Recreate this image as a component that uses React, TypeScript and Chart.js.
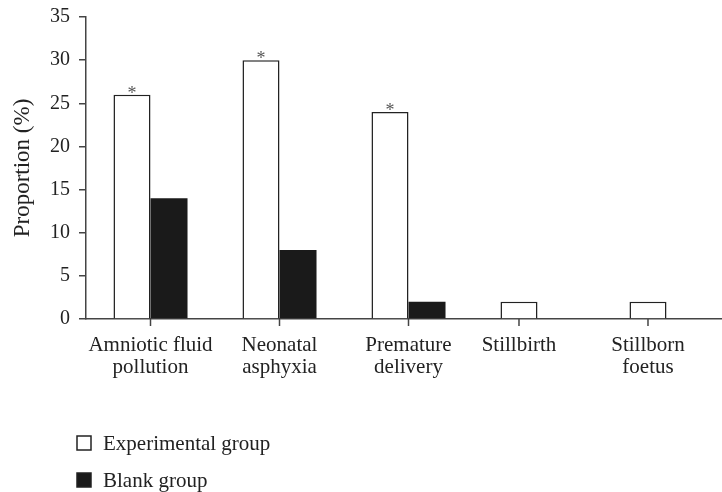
import React, { useEffect, useRef } from "react";
import { Chart, registerables } from "chart.js";

Chart.register(...registerables);

const categories: string[][] = [
  ["Amniotic fluid", "pollution"],
  ["Neonatal", "asphyxia"],
  ["Premature", "delivery"],
  ["Stillbirth"],
  ["Stillborn", "foetus"],
];
const experimental = [26, 30, 24, 2, 2];
const blank = [14, 8, 2, 0, 0];
const significant = [true, true, true, false, false];
const seriesNames = ["Experimental group", "Blank group"];
const yMax = 35;
const yStep = 5;

const FONT = "'Liberation Serif', 'Times New Roman', serif";
const TEXT = "#222";

const customPlugin = {
  id: "custom",
  afterDraw(chart: any) {
    const ctx = chart.ctx;
    const x = chart.scales.x;
    const area = chart.chartArea;
    const m0 = chart.getDatasetMeta(0);
    ctx.save();
    // ticks + labels
    ctx.strokeStyle = "#444";
    ctx.lineWidth = 1.5;
    ctx.fillStyle = TEXT;
    ctx.font = `21px ${FONT}`;
    ctx.textAlign = "center";
    ctx.textBaseline = "middle";
    categories.forEach((lines, i) => {
      const cx = blank[i] > 0 ? x.getPixelForValue(i) : m0.data[i].x;
      ctx.beginPath();
      ctx.moveTo(cx, area.bottom);
      ctx.lineTo(cx, area.bottom + 7);
      ctx.stroke();
      lines.forEach((t, j) => {
        ctx.fillText(t, cx, area.bottom + 26 + j * 22);
      });
    });
    // asterisks
    ctx.fillStyle = "#555";
    ctx.font = `18px ${FONT}`;
    ctx.textBaseline = "alphabetic";
    significant.forEach((s, i) => {
      if (!s) return;
      const el = m0.data[i];
      ctx.fillText("*", el.x, el.y + 4);
    });
    // legend
    ctx.font = `21px ${FONT}`;
    ctx.textAlign = "left";
    ctx.textBaseline = "alphabetic";
    const rows = [450, 487];
    seriesNames.forEach((name, i) => {
      const by = rows[i] - 14;
      ctx.lineWidth = 1.5;
      ctx.strokeStyle = "#222";
      ctx.fillStyle = i === 0 ? "#fff" : "#1a1a1a";
      ctx.fillRect(77, by, 14, 14);
      ctx.strokeRect(77, by, 14, 14);
      ctx.fillStyle = TEXT;
      ctx.fillText(name, 103, rows[i]);
    });
    ctx.restore();
  },
};

export default function App() {
  const ref = useRef<HTMLCanvasElement>(null);
  useEffect(() => {
    document.body.style.margin = "0";
    const chart = new Chart(ref.current!, {
      type: "bar",
      data: {
        labels: categories.map((c) => c.join(" ")),
        datasets: [
          {
            label: seriesNames[0],
            data: experimental,
            backgroundColor: "#ffffff",
            borderColor: "#222",
            borderWidth: 1.5,
          },
          {
            label: seriesNames[1],
            data: blank,
            backgroundColor: "#1a1a1a",
            borderColor: "#1a1a1a",
            borderWidth: 0,
          },
        ],
      },
      options: {
        responsive: false,
        animation: false,
        devicePixelRatio: 1,
        layout: { padding: { top: 17, right: 9, bottom: 113, left: 0 } },
        plugins: { legend: { display: false }, tooltip: { enabled: false } },
        datasets: { bar: { categoryPercentage: 0.574, barPercentage: 1 } },
        scales: {
          x: {
            grid: { display: false },
            border: { display: true, color: "#444", width: 1.5 },
            ticks: { display: false },
            afterFit: (s: any) => {
              s.height = 60;
              s.paddingLeft = 0;
              s.paddingRight = 0;
            },
          },
          y: {
            min: 0,
            max: yMax,
            ticks: {
              stepSize: yStep,
              color: TEXT,
              font: { family: FONT, size: 20 },
              padding: 9,
            },
            grid: {
              drawOnChartArea: false,
              drawTicks: true,
              tickLength: 7,
              color: "#444",
              lineWidth: 1.5,
            },
            border: { display: true, color: "#444", width: 1.5 },
            title: {
              display: true,
              text: "Proportion (%)",
              color: TEXT,
              font: { family: FONT, size: 23 },
              padding: { top: 9, bottom: 0 },
            },
            afterFit: (s: any) => {
              s.width = 86;
              s.paddingTop = 0;
              s.paddingBottom = 0;
            },
          },
        },
      },
      plugins: [customPlugin],
    });
    return () => chart.destroy();
  }, []);
  return (
    <div
      style={{
        position: "absolute",
        left: 0,
        top: 0,
        width: 722,
        height: 492,
        overflow: "hidden",
        background: "#fff",
      }}
    >
      <canvas ref={ref} width={740} height={492} style={{ display: "block" }} />
    </div>
  );
}
